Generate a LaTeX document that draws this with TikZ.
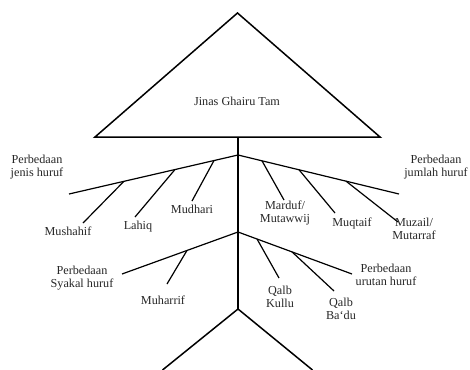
\documentclass[tikz,border=0pt]{standalone}
\usepackage{fontspec}
\setmainfont{Liberation Serif}
\usetikzlibrary{calc}
\tikzset{
  tri/.style={line width=1.5pt, line join=miter},
  trunk/.style={line width=1.2pt},
  branch/.style={line width=1.2pt},
  lbl/.style={font=\fontsize{12.2}{12.8}\selectfont, align=center, inner sep=0pt, text=black!85},
}
\begin{document}
\begin{tikzpicture}[x=1pt,y=-1pt]
\useasboundingbox (0,0) rectangle (470,369);
% triangle
\coordinate (apex) at (237.5,13);
\coordinate (bl) at (95,137);
\coordinate (br) at (380,137);
\draw[tri] (apex) -- (br) -- (bl) -- cycle;
\node[lbl] (title) at (237,101) {Jinas Ghairu Tam};
% trunk
\coordinate (tb) at (238,137);
\coordinate (j1) at (238,155);
\coordinate (j2) at (238,232);
\coordinate (j3) at (238,309);
\coordinate (vl) at (162.5,370);
\coordinate (vr) at (312.5,370);
\draw[trunk] (tb) -- (j3);
\draw[tri] (vl) -- (j3) -- (vr);
% upper left
\coordinate (ul) at (69,194);
\draw[branch] (j1) -- (ul);
\coordinate (pmud) at ($(j1)!0.142!(ul)$);
\coordinate (plah) at ($(j1)!0.373!(ul)$);
\coordinate (pmus) at ($(j1)!0.675!(ul)$);
\coordinate (emud) at (192,201);
\coordinate (elah) at (135,217);
\coordinate (emus) at (83,223);
\draw[branch] (pmud) -- (emud);
\draw[branch] (plah) -- (elah);
\draw[branch] (pmus) -- (emus);
\node[lbl] (pjh) at (37,167) {Perbedaan\\jenis huruf};
\node[lbl] (mus) at (68,231) {Mushahif};
\node[lbl] (lah) at (138,227) {Lahiq};
\node[lbl] (mud) at (192,209) {Mudhari};
% upper right
\coordinate (ur) at (399,194);
\draw[branch] (j1) -- (ur);
\coordinate (pmar) at ($(j1)!0.149!(ur)$);
\coordinate (pmuq) at ($(j1)!0.379!(ur)$);
\coordinate (pmuz) at ($(j1)!0.671!(ur)$);
\coordinate (emar) at (284,200);
\coordinate (emuq) at (335,213);
\coordinate (emuz) at (398,222);
\draw[branch] (pmar) -- (emar);
\draw[branch] (pmuq) -- (emuq);
\draw[branch] (pmuz) -- (emuz);
\node[lbl] (mar) at (285,213) {Marduf/\\Mutawwij};
\node[lbl] (muq) at (352,223) {Muqtaif};
\node[lbl] (muz) at (414,229) {Muzail/\\Mutarraf};
\node[lbl] (pjm) at (436,167) {Perbedaan\\jumlah huruf};
% lower left
\coordinate (ll) at (122,274);
\draw[branch] (j2) -- (ll);
\coordinate (pmuh) at ($(j2)!0.44!(ll)$);
\coordinate (emuh) at (167,284);
\draw[branch] (pmuh) -- (emuh);
\node[lbl] (psh) at (82,278) {Perbedaan\\Syakal huruf};
\node[lbl] (muh) at (163,300) {Muharrif};
% lower right
\coordinate (lr) at (352,274);
\draw[branch] (j2) -- (lr);
\coordinate (pqk) at ($(j2)!0.167!(lr)$);
\coordinate (pqb) at ($(j2)!0.474!(lr)$);
\coordinate (eqk) at (279,278);
\coordinate (eqb) at (334,291);
\draw[branch] (pqk) -- (eqk);
\draw[branch] (pqb) -- (eqb);
\node[lbl] (qk) at (280,297) {Qalb\\Kullu};
\node[lbl] (qb) at (341,309) {Qalb\\Ba‘du};
\node[lbl] (puh) at (386,275) {Perbedaan\\urutan huruf};
\end{tikzpicture}
\end{document}
